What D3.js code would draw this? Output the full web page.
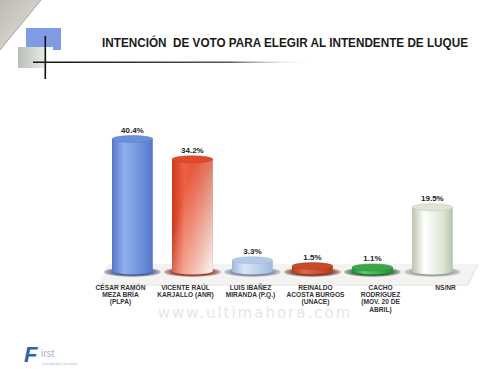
<!DOCTYPE html>
<html><head><meta charset="utf-8">
<script src="https://cdn.jsdelivr.net/npm/d3@7"></script>
<style>html,body{margin:0;padding:0;background:#fff;}svg{display:block;}</style>
</head><body>
<script>
const categories = ["cesar","vicente","luis","reinaldo","cacho","nsnr"];
const labelLines = [
  ["CÉSAR RAMÓN","MEZA BRÍA","(PLPA)"],
  ["VICENTE RAÚL","KARJALLO (ANR)"],
  ["LUIS IBAÑEZ","MIRANDA (P.Q.)"],
  ["REINALDO","ACOSTA BURGOS","(UNACE)"],
  ["CACHO","RODRIGUEZ","(MOV. 20 DE","ABRIL)"],
  ["NS/NR"]
];
const values = [40.4, 34.2, 3.3, 1.5, 1.1, 19.5];
const valueLabels = ["40.4%","34.2%","3.3%","1.5%","1.1%","19.5%"];
const colors = [
  ["#5576c6","#8fb0ec","#6a8fda"],
  ["#c93a1c","#ee6244","#de4a2c"],
  ["#9fb8de","#dbe6f7","#b6c9e8"],
  ["#b23c1c","#e0684a","#c84a2a"],
  ["#2a8a36","#5cc868","#3aa84a"],
  ["#b8c4ae","#ffffff","#dfe6d6"]
];
const shadows = ["#3b4d80","#7a2a1a","#6a7a92","#6e2a18","#1e5a26","#8e968a"];
const title = "INTENCIÓN  DE VOTO PARA ELEGIR AL INTENDENTE DE LUQUE";

const W = 500, H = 369;
const svg = d3.select("body").append("svg").attr("width", W).attr("height", H);
const defs = svg.append("defs");

// page corner fold
const fold = defs.append("linearGradient").attr("id","fold").attr("x1","0").attr("y1","0").attr("x2","1").attr("y2","1");
fold.append("stop").attr("offset","0").attr("stop-color","#bdbab2");
fold.append("stop").attr("offset","1").attr("stop-color","#e6e4de");
svg.append("path").attr("d","M0,0 L41,0 L0,50 Z").attr("fill","url(#fold)");
svg.append("path").attr("d","M41,0 L0,50").attr("stroke","#a8a49c").attr("stroke-width",1);

// decoration
svg.append("path").attr("d","M26,28 L61,28 L61,50 L53,50 L53,47 L26,47 Z").attr("fill","#7f9be3");
const gg = defs.append("linearGradient").attr("id","grayblock").attr("x1","0").attr("y1","0").attr("x2","1").attr("y2","0");
gg.append("stop").attr("offset","0").attr("stop-color","#b9beb6");
gg.append("stop").attr("offset","1").attr("stop-color","#e8ebe6");
svg.append("rect").attr("x",18).attr("y",47).attr("width",27).attr("height",21).attr("fill","url(#grayblock)");
const hl = defs.append("linearGradient").attr("id","hline").attr("x1","0").attr("y1","0").attr("x2","1").attr("y2","0");
hl.append("stop").attr("offset","0").attr("stop-color","#111");
hl.append("stop").attr("offset","0.7").attr("stop-color","#555");
hl.append("stop").attr("offset","1").attr("stop-color","#fff").attr("stop-opacity",0);
svg.append("rect").attr("x",33).attr("y",61.5).attr("width",280).attr("height",1.5).attr("fill","url(#hline)");
svg.append("rect").attr("x",44.5).attr("y",36).attr("width",1.6).attr("height",43).attr("fill","#111");

svg.append("text").attr("x",285).attr("y",47).attr("text-anchor","middle")
  .attr("font-family","Liberation Sans, Arial, sans-serif").attr("font-weight","bold")
  .attr("font-size",12).attr("fill","#1a1a1a").attr("textLength",366).attr("lengthAdjust","spacingAndGlyphs")
  .style("white-space","pre").text(title);

// floor
svg.append("path").attr("d","M98,285 L468,285 L478,264 L108,264 Z").attr("fill","#f3f3f2");
svg.append("path").attr("d","M98,285 L468,285 L478,264").attr("fill","none").attr("stroke","#e2e2e0").attr("stroke-width",1);

// scales
const x = d3.scaleBand().domain(categories).range([106, 458.8]).paddingInner(0.32).paddingOuter(0.1);
const xl = d3.scaleBand().domain(categories).range([88, 478]).padding(0);
const y0 = 271;
const y = d3.scaleLinear().domain([0, 40.4]).range([y0, 139]);

categories.forEach((c, i) => {
  const grad = defs.append("linearGradient").attr("id","cyl"+i).attr("x1","0").attr("y1","0").attr("x2","1").attr("y2","0");
  grad.append("stop").attr("offset","0").attr("stop-color",colors[i][0]);
  grad.append("stop").attr("offset","0.3").attr("stop-color",colors[i][1]);
  grad.append("stop").attr("offset","0.75").attr("stop-color",colors[i][2]);
  grad.append("stop").attr("offset","1").attr("stop-color",colors[i][0]);
  const sg = defs.append("radialGradient").attr("id","sh"+i);
  sg.append("stop").attr("offset","0.6").attr("stop-color",shadows[i]);
  sg.append("stop").attr("offset","1").attr("stop-color",shadows[i]).attr("stop-opacity",0.3);
});
const wg = defs.append("linearGradient").attr("id","whiteish").attr("x1","0.2").attr("y1","0.4").attr("x2","0.9").attr("y2","1");
wg.append("stop").attr("offset","0").attr("stop-color","#fff").attr("stop-opacity",0);
wg.append("stop").attr("offset","1").attr("stop-color","#fff").attr("stop-opacity",0.9);

const g = svg.append("g");
const bars = g.selectAll("g.bar").data(categories).join("g").attr("class","bar");
bars.each(function(c, i) {
  const sel = d3.select(this);
  const bw = x.bandwidth();
  const cx = x(c) + bw / 2;
  const top = y(values[i]);
  const ry = 3.5;
  sel.append("ellipse").attr("cx",cx).attr("cy",y0+1).attr("rx",bw/2+8).attr("ry",ry+1.5).attr("fill","url(#sh"+i+")");
  const d = `M${cx-bw/2},${top} L${cx-bw/2},${y0} A${bw/2},${ry} 0 0 0 ${cx+bw/2},${y0} L${cx+bw/2},${top} Z`;
  sel.append("path").attr("d", d).attr("fill","url(#cyl"+i+")");
  if (c === "vicente") sel.append("path").attr("d", d).attr("fill","url(#whiteish)");
  sel.append("ellipse").attr("cx",cx).attr("cy",top).attr("rx",bw/2).attr("ry",ry)
    .attr("fill",colors[i][2]).attr("stroke",colors[i][0]).attr("stroke-width",0.5);
  sel.append("text").attr("x",cx).attr("y",top-6).attr("text-anchor","middle")
    .attr("font-family","Liberation Sans, Arial, sans-serif").attr("font-weight","bold")
    .attr("font-size",8).attr("fill","#222").text(valueLabels[i]);
});

// category labels
categories.forEach((c, i) => {
  const t = svg.append("text").attr("text-anchor","middle")
    .attr("font-family","Liberation Sans, Arial, sans-serif").attr("font-weight","bold")
    .attr("font-size",6.6).attr("fill","#333");
  labelLines[i].forEach((ln, k) => {
    t.append("tspan").attr("x", xl(c) + xl.bandwidth()/2).attr("y", 290 + k*7.2).text(ln);
  });
});

// watermark
svg.append("text").attr("x",255).attr("y",318).attr("text-anchor","middle")
  .attr("font-family","DejaVu Sans, sans-serif").attr("font-size",15).attr("letter-spacing",2)
  .attr("fill","#dcdcdc").attr("opacity",0.7).text("www.ultimahora.com");

// logo
svg.append("text").attr("x",24).attr("y",362).attr("font-family","Liberation Sans, sans-serif")
  .attr("font-style","italic").attr("font-weight","bold").attr("font-size",22).attr("fill","#2f63b0").text("F");
svg.append("text").attr("x",41).attr("y",357).attr("font-family","Liberation Sans, sans-serif")
  .attr("font-size",10).attr("fill","#9fb6d6").text("irst");
svg.append("text").attr("x",42).attr("y",365).attr("font-family","Liberation Sans, sans-serif")
  .attr("font-size",3).attr("fill","#9fb6d6").text("Investigación y Consultora");
</script>
</body></html>
